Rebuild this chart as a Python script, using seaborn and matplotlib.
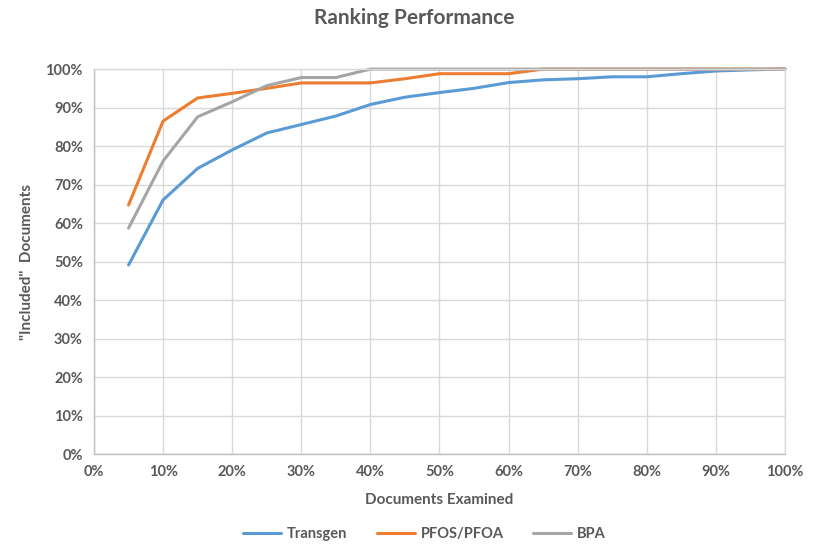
import matplotlib
matplotlib.use("Agg")
import matplotlib.pyplot as plt
import matplotlib.ticker as mticker
import seaborn as sns
import pandas as pd

# Share of documents examined (fraction)
examined = [0.05, 0.10, 0.15, 0.20, 0.25, 0.30, 0.35, 0.40, 0.45, 0.50,
            0.55, 0.60, 0.65, 0.70, 0.75, 0.80, 0.85, 0.90, 0.95, 1.00]

# Share of "included" documents found (fraction)
transgen = [0.491, 0.660, 0.742, 0.790, 0.834, 0.856, 0.878, 0.908, 0.927, 0.939,
            0.950, 0.965, 0.972, 0.975, 0.980, 0.980, 0.988, 0.995, 0.998, 1.000]
pfos_pfoa = [0.647, 0.865, 0.925, 0.937, 0.950, 0.964, 0.964, 0.964, 0.975, 0.988,
             0.988, 0.988, 1.000, 1.000, 1.000, 1.000, 1.000, 1.000, 1.000, 1.000]
bpa = [0.587, 0.761, 0.876, 0.915, 0.957, 0.978, 0.978, 1.000, 1.000, 1.000,
       1.000, 1.000, 1.000, 1.000, 1.000, 1.000, 1.000, 1.000, 1.000, 1.000]

series_names = ["Transgen", "PFOS/PFOA", "BPA"]
series_colors = ["#5B9BD5", "#ED7D31", "#A5A5A5"]

df = pd.concat([
    pd.DataFrame({"examined": examined, "included": vals, "series": name})
    for name, vals in zip(series_names, [transgen, pfos_pfoa, bpa])
], ignore_index=True)

sns.set_theme(style="white")
plt.rcParams["font.family"] = ["Lato", "DejaVu Sans"]

text_color = "#595959"
grid_color = "#D9D9D9"

fig = plt.figure(figsize=(8.16, 5.44), dpi=100)
ax = fig.add_axes([0.1152, 0.1654, 0.8468, 0.7076])

sns.lineplot(data=df, x="examined", y="included", hue="series",
             hue_order=series_names, palette=series_colors,
             linewidth=2.2, ax=ax, legend=False)
for line in ax.get_lines():
    line.set_clip_on(False)

ax.set_xlim(0, 1)
ax.set_ylim(0, 1)
ax.xaxis.set_major_locator(mticker.MultipleLocator(0.1))
ax.yaxis.set_major_locator(mticker.MultipleLocator(0.1))
ax.xaxis.set_major_formatter(mticker.PercentFormatter(1.0, decimals=0))
ax.yaxis.set_major_formatter(mticker.PercentFormatter(1.0, decimals=0))
ax.grid(True, color=grid_color, linewidth=1.0)
ax.set_axisbelow(True)
for side in ["top", "right"]:
    ax.spines[side].set_color(grid_color)
    ax.spines[side].set_linewidth(1.0)
for side in ["left", "bottom"]:
    ax.spines[side].set_color("#BFBFBF")
    ax.spines[side].set_linewidth(1.0)

ax.tick_params(axis="both", length=0, labelsize=10.5, labelcolor=text_color, pad=8)
for lbl in ax.get_xticklabels() + ax.get_yticklabels():
    lbl.set_fontweight("bold")

ax.set_xlabel("Documents Examined", fontsize=11, fontweight="bold",
              color=text_color, labelpad=10)
ax.set_ylabel("\"Included\"  Documents", fontsize=11, fontweight="bold",
              color=text_color, labelpad=8)

fig.suptitle("Ranking Performance", x=0.508, y=0.985, fontsize=15,
             fontweight="bold", color=text_color)

handles = [plt.Line2D([], [], color=c, linewidth=2.2) for c in series_colors]
fig.legend(handles, series_names, loc="center", bbox_to_anchor=(0.52, 0.018),
           ncol=3, frameon=False, handlelength=2.6,
           columnspacing=2.0, handletextpad=0.4,
           prop={"weight": "bold", "size": 10.5})
for t in fig.legends[0].get_texts():
    t.set_color(text_color)

fig.savefig("out.png", dpi=100)
